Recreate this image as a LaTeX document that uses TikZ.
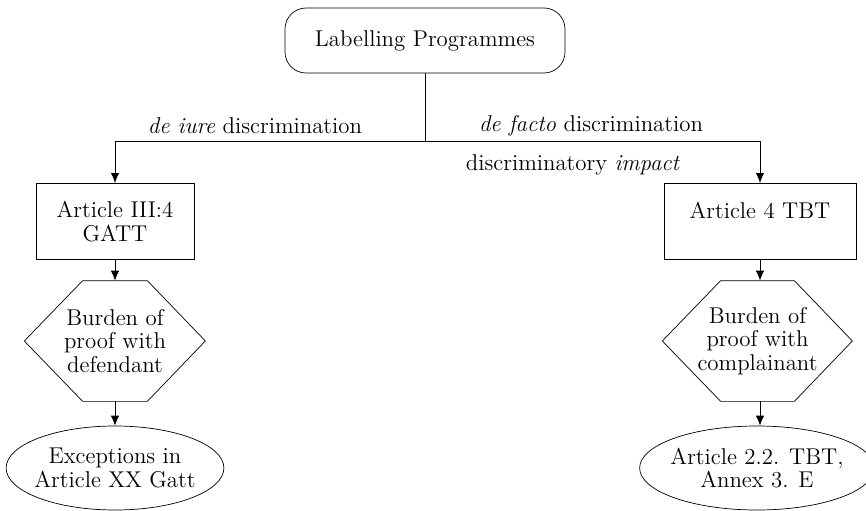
\documentclass[tikz,border=0pt]{standalone}
\usepackage{tikz}
\usetikzlibrary{arrows.meta,shapes.geometric,positioning,calc}
\tikzset{
  rootnode/.style={draw,rounded corners=0.42cm,minimum width=5.6cm,minimum height=1.3cm,align=center},
  artbox/.style={draw,rectangle,minimum height=1.52cm,align=center,inner sep=2pt},
  burdenhex/.style={rectangle,minimum width=3.6cm,minimum height=2.4cm,align=center,inner sep=0pt},
  exitoval/.style={draw,ellipse,minimum width=4.3cm,minimum height=1.68cm,align=center,inner ysep=0pt,inner xsep=-2pt},
  flowarr/.style={-{Latex[length=2mm,width=1.7mm]},line width=0.5pt},
  branchlab/.style={inner sep=1pt}
}

\begin{document}
\begin{tikzpicture}[font=\fontsize{13}{13.4}\selectfont]
  \useasboundingbox (0,0) rectangle (17.32,-10.22);
  \node[rootnode] (prog) at (8.5,-0.81) {Labelling Programmes};
  \coordinate (split) at (8.5,-2.82);
  \node[artbox,minimum width=3.16cm,anchor=north] (gatt) at (2.3,-3.66) {Article III:4\\ GATT};
  \node[artbox,minimum width=3.84cm,anchor=north,text depth=0.46cm] (tbt) at (15.2,-3.66) {Article 4 TBT};
  \node[burdenhex] (defend) at (2.3,-6.82) {Burden of\\ proof with\\ defendant};
  \node[burdenhex,minimum width=3.78cm] (compl) at (15.15,-6.82) {Burden of\\ proof with\\ complainant};
  % hexagon borders round the two burden nodes
  \foreach \h in {defend,compl}
    \draw ([xshift=-0.5\pgflinewidth]\h.west) -- ([xshift=1.16cm]\h.north west) -- ([xshift=-1.16cm]\h.north east)
      -- (\h.east) -- ([xshift=-1.16cm]\h.south east) -- ([xshift=1.16cm]\h.south west) -- cycle;
  \node[exitoval] (gattex) at (2.3,-9.36) {Exceptions in\\ Article XX Gatt};
  \node[exitoval] (tbtex) at (15.14,-9.36) {Article 2.2. TBT,\\ Annex 3. E};
  \draw[line width=0.5pt] (prog) -- (split);
  \draw[flowarr] (split) -| (gatt);
  \draw[flowarr] (split) -| (tbt);
  \draw[flowarr] (gatt) -- (defend);
  \draw[flowarr] (tbt) -- (tbt |- compl.north);
  \draw[flowarr] (defend) -- (gattex);
  \draw[flowarr] (tbt |- compl.south) -- (tbt |- tbtex.north);
  \node[branchlab] (iure) at (5.1,-2.52) {\textit{de iure} discrimination};
  \node[branchlab] (facto) at (11.82,-2.52) {\textit{de facto} discrimination};
  \node[branchlab] (impact) at (11.46,-3.3) {discriminatory \textit{impact}};
\end{tikzpicture}
\end{document}
